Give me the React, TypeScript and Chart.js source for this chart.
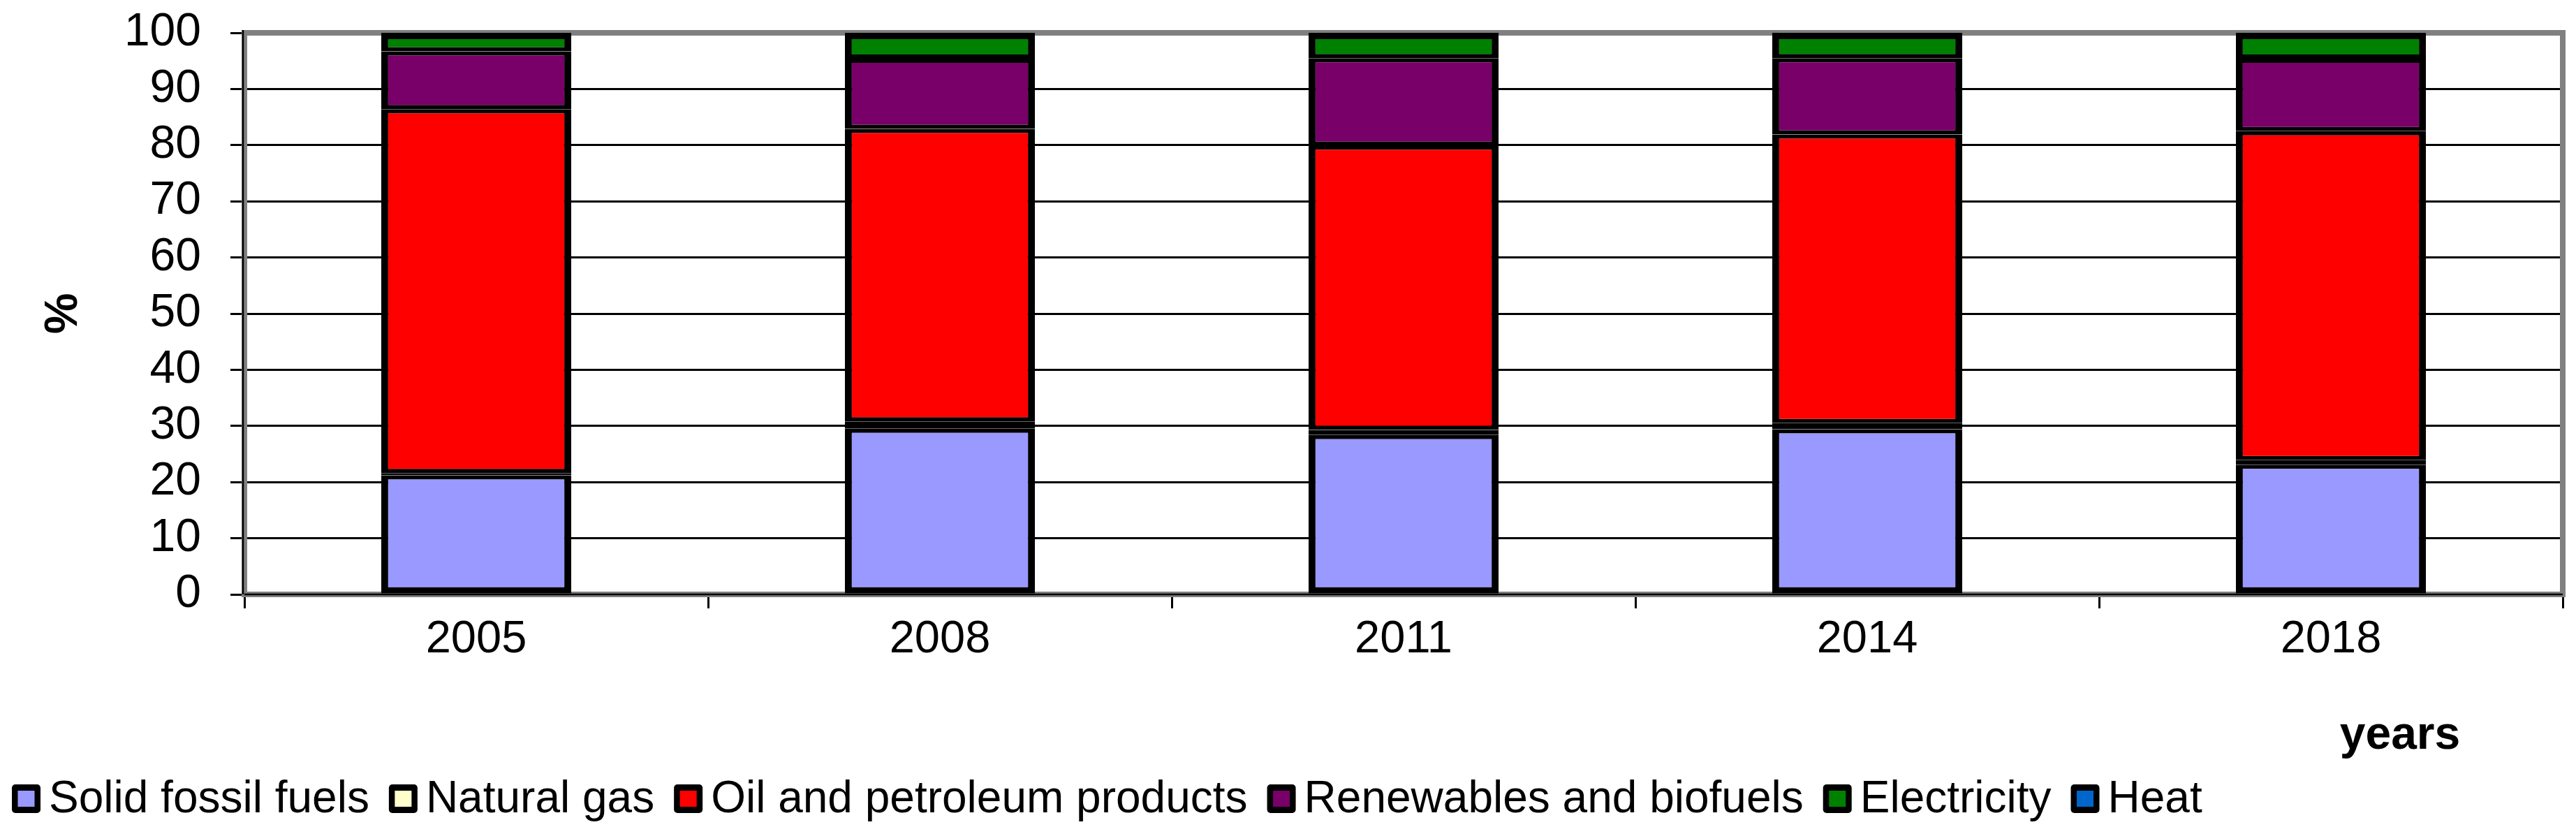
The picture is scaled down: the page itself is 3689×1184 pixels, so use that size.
import React, { useEffect, useRef } from "react";
import { Chart, registerables } from "chart.js";

Chart.register(...registerables);

// ---- Data ----
const years = ["2005", "2008", "2011", "2014", "2018"];
const solidFossilFuels = [21.2, 29.5, 28.4, 29.4, 23.1];
const naturalGas = [0.4, 1.3, 0.9, 1.1, 0.8];
const oilAndPetroleum = [64.8, 52.1, 50.6, 51.4, 58.6];
const renewablesAndBiofuels = [10.3, 12.5, 15.6, 13.6, 12.9];
const electricity = [3.3, 4.6, 4.5, 4.5, 4.6];
const heat = [0, 0, 0, 0, 0];

const seriesNames = [
  "Solid fossil fuels",
  "Natural gas",
  "Oil and petroleum products",
  "Renewables and biofuels",
  "Electricity",
  "Heat",
];
const seriesValues = [solidFossilFuels, naturalGas, oilAndPetroleum, renewablesAndBiofuels, electricity, heat];
const seriesColors = ["#9999FF", "#FFFFCC", "#FF0000", "#780068", "#008000", "#0066CC"];

const yTitle = "%";
const xTitle = "years";
const yMin = 0;
const yMax = 100;
const yStep = 10;

const FONT = "'Liberation Sans', Arial, sans-serif";
const W = 3689;
const H = 1184;
const PLOT_TOP = 47;
const PLOT_BOTTOM = 851;

const framePlugin = {
  id: "frame",
  beforeDatasetsDraw(chart: any) {
    const { ctx, chartArea } = chart;
    const { left, right, top, bottom } = chartArea;
    ctx.save();
    ctx.strokeStyle = "#808080";
    ctx.lineWidth = 8;
    ctx.strokeRect(left, top, right - left, bottom - top);
    ctx.strokeStyle = "#000000";
    ctx.lineWidth = 2.5;
    ctx.beginPath();
    ctx.moveTo(left - 2, top - 4);
    ctx.lineTo(left - 2, bottom);
    ctx.moveTo(left, bottom);
    ctx.lineTo(right, bottom);
    ctx.stroke();
    ctx.restore();
  },
};

const legendPlugin = {
  id: "customLegend",
  afterDraw(chart: any) {
    const { ctx } = chart;
    ctx.save();
    ctx.font = `64px ${FONT}`;
    ctx.textAlign = "left";
    ctx.textBaseline = "alphabetic";
    let x = 17;
    const boxTop = 1123;
    const size = 41;
    const baseline = 1163;
    chart.data.datasets.forEach((ds: any) => {
      ctx.fillStyle = "#000000";
      ctx.beginPath();
      (ctx as any).roundRect(x, boxTop, size, size, 5);
      ctx.fill();
      ctx.fillStyle = ds.backgroundColor;
      ctx.fillRect(x + 8.5, boxTop + 9, 24, 23);
      ctx.fillStyle = "#000000";
      const tx = x + 53;
      ctx.fillText(ds.label, tx, baseline);
      const tw = ctx.measureText(ds.label).width;
      x = tx + tw + 28;
    });
    // x-axis title
    ctx.font = `bold 66px ${FONT}`;
    ctx.textAlign = "center";
    ctx.fillText(xTitle, 3437, 1072);
    ctx.restore();
  },
};

export default function App() {
  const canvasRef = useRef<HTMLCanvasElement | null>(null);

  useEffect(() => {
    const canvas = canvasRef.current;
    if (!canvas) return;
    const last = seriesValues.length - 1;
    const datasets = seriesNames.map((name, i) => ({
      label: name,
      data: seriesValues[i],
      backgroundColor: seriesColors[i],
      borderColor: "#000000",
      borderWidth: {
        top: i === 4 || i === last ? 9 : 6,
        bottom: i === 0 ? 9 : 6,
        left: 10,
        right: 10,
      },
      borderSkipped: false,
      inflateAmount: 0,
      categoryPercentage: 1,
      barPercentage: 0.41,
    }));

    const chart = new Chart(canvas, {
      type: "bar",
      data: { labels: years, datasets },
      options: {
        animation: false,
        responsive: false,
        devicePixelRatio: 1,
        layout: { padding: { top: PLOT_TOP, right: 19, bottom: 0, left: 0 } },
        plugins: {
          legend: { display: false },
          tooltip: { enabled: false },
          title: { display: false },
        },
        scales: {
          x: {
            stacked: true,
            afterFit: (scale: any) => {
              scale.height = H - PLOT_BOTTOM;
              scale.paddingLeft = 0;
              scale.paddingRight = 0;
            },
            grid: {
              display: true,
              offset: true,
              drawOnChartArea: false,
              drawTicks: true,
              tickLength: 20,
              color: "#000000",
              lineWidth: 3,
            },
            border: { display: false },
            ticks: {
              color: "#000000",
              font: { family: FONT, size: 65 },
              padding: 6,
              maxRotation: 0,
              autoSkip: false,
            },
          },
          y: {
            stacked: true,
            min: yMin,
            max: yMax,
            afterFit: (scale: any) => {
              scale.width = 350;
              scale.paddingTop = 0;
              scale.paddingBottom = 0;
            },
            grid: {
              display: true,
              drawOnChartArea: true,
              drawTicks: true,
              tickLength: 20,
              color: "#000000",
              lineWidth: 3,
            },
            border: { display: false },
            ticks: {
              stepSize: yStep,
              autoSkip: false,
              color: "#000000",
              font: { family: FONT, size: 66 },
              padding: 42,
            },
            title: {
              display: true,
              text: yTitle,
              color: "#000000",
              font: { family: FONT, size: 66, weight: "bold" },
              padding: { top: 52, bottom: 0 },
            },
          },
        },
      },
      plugins: [framePlugin, legendPlugin],
    } as any);

    return () => chart.destroy();
  }, []);

  return (
    <div style={{ position: "fixed", left: 0, top: 0, width: W, height: H, background: "#ffffff" }}>
      <canvas ref={canvasRef} width={W} height={H} style={{ display: "block", width: W, height: H }} />
    </div>
  );
}
